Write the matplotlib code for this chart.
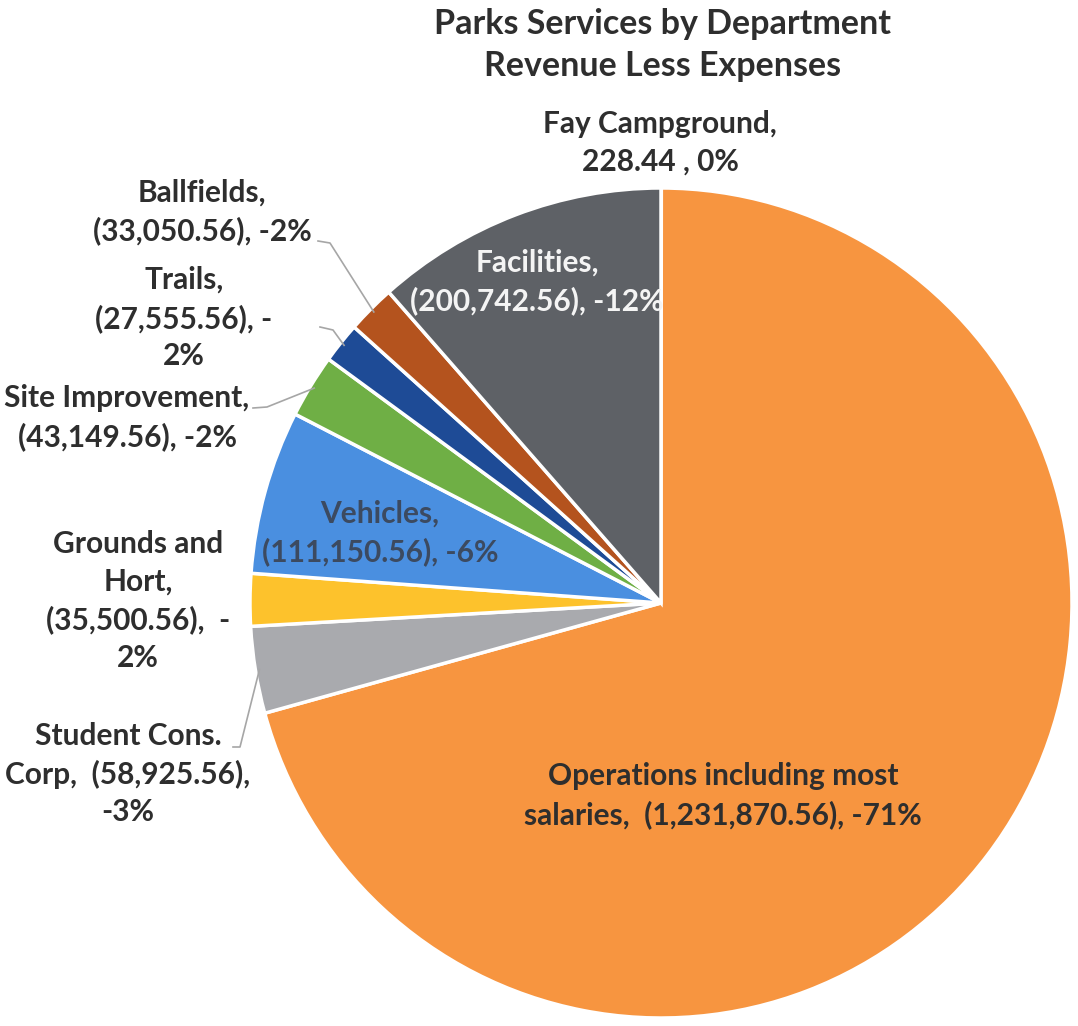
import numpy as np
import matplotlib.pyplot as plt

plt.rcParams['font.family'] = ['Lato', 'DejaVu Sans']

# net result per department (revenue less expenses)
departments = ['Fay Campground', 'Operations including most salaries', 'Student Cons. Corp',
               'Grounds and Hort', 'Vehicles', 'Site Improvement', 'Trails', 'Ballfields', 'Facilities']
net_amounts = [228.44, -1231870.56, -58925.56, -35500.56, -111150.56,
               -43149.56, -27555.56, -33050.56, -200742.56]
slice_colors = ['#5B9BD5', '#F79540', '#A9AAAE', '#FDC22C', '#4A8FE0',
                '#6FAF45', '#1E4B96', '#B4531E', '#5E6166']

# how each data label wraps ({v} value, {s} sign, {n} percent)
label_templates = [
    'Fay Campground,\n{v} , {s}{n}%',
    'Operations including most\nsalaries,  {v}, {s}{n}%',
    'Student Cons.\nCorp,  {v},\n{s}{n}%',
    'Grounds and\nHort,\n{v},  {s}\n{n}%',
    'Vehicles,\n{v}, {s}{n}%',
    'Site Improvement,\n{v}, {s}{n}%',
    'Trails,\n{v}, {s}\n{n}%',
    'Ballfields,\n{v}, {s}{n}%',
    'Facilities,\n{v}, {s}{n}%',
]

# label centres in pixels from the top-left, and leader start points
label_pos = [(660, 143), (723, 796), (128, 774), (138, 601), (380, 533),
             (127, 418), (184, 318), (202, 212), (537, 282)]
label_colors = ['#2E2E2E', '#2E2E2E', '#2E2E2E', '#2E2E2E', '#3C4A60',
                '#2E2E2E', '#2E2E2E', '#2E2E2E', '#F4F4F4']
leaders = {2: [(233, 747), (240, 747)],
           5: [(253, 408), (267, 407)],
           6: [(320, 327), (333, 330)],
           7: [(318, 241), (330, 243)]}

W, H = 1078, 1026
fig = plt.figure(figsize=(W / 100, H / 100), dpi=100)
fig.patch.set_facecolor('white')

# pie box in pixels (left, top, right, bottom)
left, top, right, bottom = 250, 188, 1072, 1018
ax = fig.add_axes([left / W, 1 - bottom / H, (right - left) / W, (bottom - top) / H])

sizes = np.abs(net_amounts)
total = sizes.sum()
wedges, _ = ax.pie(sizes, colors=slice_colors, startangle=90, counterclock=False,
                   radius=1.0, wedgeprops=dict(edgecolor='white', linewidth=2.5))
ax.set_xlim(-1, 1)
ax.set_ylim(-1, 1)
ax.set_aspect('auto')
ax.axis('off')


def to_data(px, py):
    return ax.transData.inverted().transform((px, H - py))


def money(v):
    s = '{:,.2f}'.format(abs(v))
    return '(' + s + ')' if v < 0 else s


for i, v in enumerate(net_amounts):
    pct = round(v / total * 100)
    sign = '-' if pct < 0 else ''
    txt = label_templates[i].format(v=money(v), s=sign, n=abs(pct))
    x, y = to_data(*label_pos[i])
    ax.text(x, y, txt, ha='center', va='center', fontsize=21.5, fontweight='bold',
            color=label_colors[i], linespacing=1.42, clip_on=False)

# leader lines from the outside labels to the wedge edge
for i, pts in leaders.items():
    w = wedges[i]
    mid = np.deg2rad((w.theta1 + w.theta2) / 2)
    xs = [to_data(*p)[0] for p in pts] + [0.99 * np.cos(mid)]
    ys = [to_data(*p)[1] for p in pts] + [0.99 * np.sin(mid)]
    ax.plot(xs, ys, color='#A6A6A6', lw=1.2, clip_on=False)

fig.text(663 / W, 1 - 45 / H, 'Parks Services by Department\nRevenue Less Expenses',
         ha='center', va='center', fontsize=24.5, fontweight='bold', color='#2E2E2E',
         linespacing=1.42)

fig.savefig('out.png', dpi=100, facecolor='white')
